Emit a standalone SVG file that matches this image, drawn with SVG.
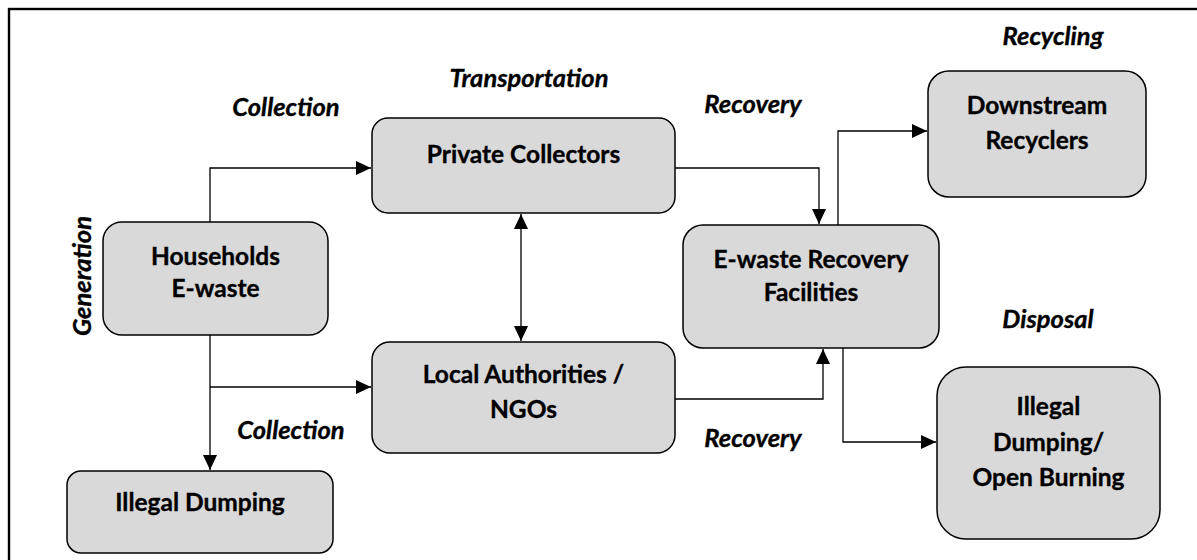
<svg xmlns="http://www.w3.org/2000/svg" width="1197" height="560" viewBox="0 0 1197 560">
<style>
.box{fill:#d9d9d9;stroke:#000;stroke-width:1.5}
.t{font-family:Lato,"Open Sans",sans-serif;font-weight:bold;font-size:24.5px;fill:#000;text-anchor:middle;stroke:#000;stroke-width:0.35}
.l{font-family:Lato,"Open Sans",sans-serif;font-weight:bold;font-style:italic;font-size:25.5px;fill:#000;text-anchor:middle;stroke:#000;stroke-width:0.35}
.c{fill:none;stroke:#000;stroke-width:1.3}
</style>
<defs>
<marker id="ah" markerUnits="userSpaceOnUse" markerWidth="16" markerHeight="14" refX="15" refY="7" orient="auto-start-reverse">
<path d="M0,0 L15,7 L0,14 Z" fill="#000"/>
</marker>
</defs>
<rect x="0" y="0" width="1197" height="560" fill="#fff"/>
<rect x="9" y="9" width="1220" height="600" fill="none" stroke="#000" stroke-width="2.4"/>

<g id="connectors">
<path class="c" d="M210,222 V168 H371" marker-end="url(#ah)"/>
<path class="c" d="M210,335 V470" marker-end="url(#ah)"/>
<path class="c" d="M210,387 H371" marker-end="url(#ah)"/>
<path class="c" d="M521,214 V341" marker-start="url(#ah)" marker-end="url(#ah)"/>
<path class="c" d="M675,168 H819 V224" marker-end="url(#ah)"/>
<path class="c" d="M838,225 V131 H927" marker-end="url(#ah)"/>
<path class="c" d="M675,399 H823 V349" marker-end="url(#ah)"/>
<path class="c" d="M843,348 V442 H936" marker-end="url(#ah)"/>
</g>

<g id="households">
<rect class="box" x="103" y="222" width="225" height="113" rx="19"/>
<text class="t" x="215.5" y="265">Households</text>
<text class="t" x="215.5" y="297">E-waste</text>
</g>
<g id="private-collectors">
<rect class="box" x="372" y="118" width="303" height="95" rx="16"/>
<text class="t" x="523.5" y="163">Private Collectors</text>
</g>
<g id="local-authorities">
<rect class="box" x="372" y="342" width="303" height="111" rx="18"/>
<text class="t" x="523.5" y="383">Local Authorities /</text>
<text class="t" x="523.5" y="418">NGOs</text>
</g>
<g id="recovery-facilities">
<rect class="box" x="683" y="225" width="256" height="123" rx="20"/>
<text class="t" x="811" y="268">E-waste Recovery</text>
<text class="t" x="811" y="301">Facilities</text>
</g>
<g id="downstream-recyclers">
<rect class="box" x="928" y="71" width="218" height="126" rx="21"/>
<text class="t" x="1037" y="114">Downstream</text>
<text class="t" x="1037" y="149">Recyclers</text>
</g>
<g id="illegal-open-burning">
<rect class="box" x="937" y="367" width="223" height="172" rx="29"/>
<text class="t" x="1048.5" y="415">Illegal</text>
<text class="t" x="1048.5" y="451">Dumping/</text>
<text class="t" x="1048.5" y="486">Open Burning</text>
</g>
<g id="illegal-dumping">
<rect class="box" x="67" y="471" width="266" height="82" rx="14"/>
<text class="t" x="200" y="511">Illegal Dumping</text>
</g>

<g id="labels">
<text class="l" x="286" y="116">Collection</text>
<text class="l" x="529" y="87">Transportation</text>
<text class="l" x="753" y="113">Recovery</text>
<text class="l" x="1053" y="45">Recycling</text>
<text class="l" x="1048" y="328">Disposal</text>
<text class="l" x="753" y="447">Recovery</text>
<text class="l" x="291" y="439">Collection</text>
<text class="l" transform="translate(91,276) rotate(-90)" x="0" y="0">Generation</text>
</g>
</svg>
